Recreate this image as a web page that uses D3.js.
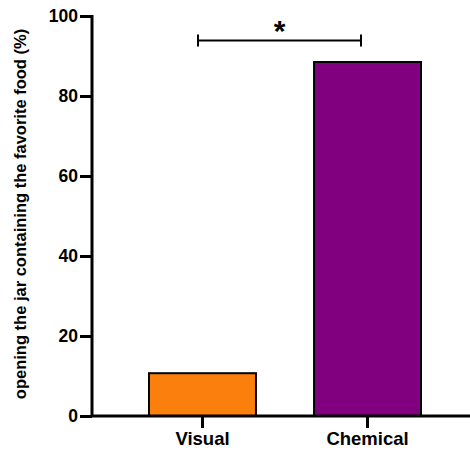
<!DOCTYPE html>
<html>
<head>
    <meta charset="utf-8"/>
    <script src="https://d3js.org/d3.v7.min.js"></script>
    <style>
        body { margin: 0; background: white; }
        text { font-family: "Liberation Sans", Arial, sans-serif; font-weight: bold; }
    </style>
</head>
<body>
<svg id="chart" width="470" height="450"></svg>
<script>
    // data
    let categories = ["Visual", "Chemical"];
    let values = [10.7, 88.5];
    let colors = ["#fb7f0c", "#800080"];
    let yTicks = [0, 20, 40, 60, 80, 100];
    let yTitle = "opening the jar containing the favorite food (%)";

    let svg = d3.select("#chart");

    // plot area (window.top is taken, so own names)
    let plotLeft = 92, plotRight = 470, plotTop = 16, plotBottom = 416;

    let x = d3.scaleBand()
        .domain(categories)
        .range([149, 421])
        .paddingInner(0.352)
        .paddingOuter(0);
    let y = d3.scaleLinear().domain([0, 100]).range([plotBottom, plotTop]);

    // bars
    svg.selectAll(".bar")
        .data(categories)
        .enter().append("rect")
        .attr("class", "bar")
        .attr("x", d => x(d))
        .attr("width", x.bandwidth())
        .attr("y", (d, i) => y(values[i]))
        .attr("height", (d, i) => y(0) - y(values[i]))
        .attr("fill", (d, i) => colors[i])
        .attr("stroke", "#000")
        .attr("stroke-width", 2);

    // y axis
    let yAxis = svg.append("g")
        .attr("transform", "translate(" + plotLeft + ",0)")
        .call(d3.axisLeft(y).tickValues(yTicks).tickSize(12).tickPadding(2));
    yAxis.select(".domain").remove();
    yAxis.append("line")
        .attr("x1", 0).attr("x2", 0)
        .attr("y1", plotTop - 1).attr("y2", plotBottom)
        .attr("stroke", "#000").attr("stroke-width", 3);
    yAxis.selectAll(".tick line").attr("stroke-width", 3);
    yAxis.selectAll(".tick text")
        .style("font-size", "17.5px")
        .attr("fill", "#000");

    // x axis
    let xAxis = svg.append("g")
        .attr("transform", "translate(0," + plotBottom + ")")
        .call(d3.axisBottom(x).tickSize(12).tickPadding(4));
    xAxis.select(".domain").remove();
    xAxis.append("line")
        .attr("x1", plotLeft - 1).attr("x2", plotRight)
        .attr("y1", 0).attr("y2", 0)
        .attr("stroke", "#000").attr("stroke-width", 3);
    xAxis.selectAll(".tick line").attr("stroke-width", 3);
    xAxis.selectAll(".tick text")
        .style("font-size", "18.5px")
        .attr("fill", "#000");

    // y title
    svg.append("text")
        .text(yTitle)
        .attr("transform", "translate(26," + 214 + ") rotate(-90)")
        .attr("text-anchor", "middle")
        .style("font-size", "16.5px");

    // significance bracket
    let sx1 = x("Visual") + x.bandwidth() / 2 - 4.5;
    let sx2 = x("Chemical") + x.bandwidth() / 2 - 6.5;
    let sy = 40.5;
    let sig = svg.append("g").attr("stroke", "#000").attr("stroke-width", 2);
    sig.append("line").attr("x1", sx1).attr("x2", sx2).attr("y1", sy).attr("y2", sy);
    sig.append("line").attr("x1", sx1).attr("x2", sx1).attr("y1", sy - 6).attr("y2", sy + 6);
    sig.append("line").attr("x1", sx2).attr("x2", sx2).attr("y1", sy - 6).attr("y2", sy + 6);
    svg.append("text")
        .text("*")
        .attr("x", (sx1 + sx2) / 2)
        .attr("y", 41)
        .attr("text-anchor", "middle")
        .style("font-size", "30px");
</script>
</body>
</html>
